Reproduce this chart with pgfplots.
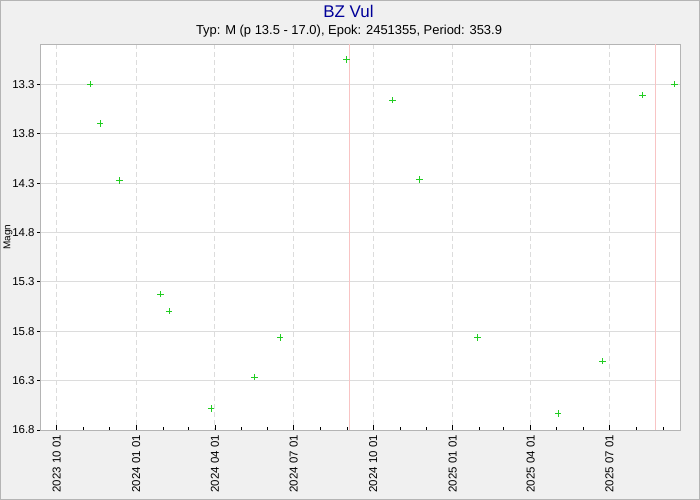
\documentclass[border=0pt]{standalone}
\usepackage{fontspec}
\setmainfont{Liberation Sans}
\usepackage{pgfplots}
\pgfplotsset{compat=1.18}
\definecolor{bg}{HTML}{F0F0F0}
\definecolor{framec}{HTML}{B4B4B4}
\definecolor{gridc}{HTML}{DCDCDC}
\definecolor{ptc}{HTML}{22CC22}
\definecolor{redl}{HTML}{F8C4C4}
\definecolor{titc}{HTML}{000099}
\begin{document}
\begin{tikzpicture}[x=1bp,y=1bp]
\useasboundingbox (0,0) rectangle (700,500);
\fill[bg] (0,0) rectangle (700,500);
\draw[framec, line width=1bp] (0.5,0.5) rectangle (699.5,499.5);
\node[anchor=base, font=\fontsize{17}{20}\selectfont, text=titc, inner sep=0pt] at (348.5,482.7) {BZ Vul};
\node[anchor=base, font=\fontsize{13}{15}\selectfont, inner sep=0pt] at (349,465.3) {Typ: M (p 13.5 - 17.0), Epok: 2451355, Period: 353.9};
\node[rotate=90, anchor=base, font=\fontsize{10}{11}\selectfont, inner sep=0pt] at (10.3,262.8) {Magn};
\begin{axis}[
  at={(40.3bp,70bp)}, anchor=south west, scale only axis,
  width=640bp, height=385.7bp,
  xmin=-18.96, xmax=721.1, ymin=12.895, ymax=16.8, y dir=reverse,
  axis background/.style={fill=white},
  axis line style={framec, line width=1bp},
  xtick={0,92,183,274,366,458,548,639},
  xticklabels={2023 10 01,2024 01 01,2024 04 01,2024 07 01,2024 10 01,2025 01 01,2025 04 01,2025 07 01},
  minor xtick={31,61,123,152,213,244,305,336,397,427,489,517,578,609,670,701},
  ytick={13.3,13.8,14.3,14.8,15.3,15.8,16.3,16.8},
  yticklabels={13.3,13.8,14.3,14.8,15.3,15.8,16.3,16.8},
  xtick pos=left, ytick pos=left,
  xtick align=inside, ytick align=outside,
  major tick length=5bp, minor tick length=3bp,
  ytick style={/pgfplots/major tick length=3bp},
  tick style={black, line width=0.8bp},
  xmajorgrids, ymajorgrids,
  x grid style={gridc, dash pattern=on 5bp off 3bp, line width=1bp},
  y grid style={gridc, line width=1bp},
  tick label style={font=\fontsize{11.5}{13}\selectfont},
  xticklabel style={rotate=90, anchor=east, inner xsep=5bp, inner ysep=0pt},
  yticklabel style={anchor=east, inner xsep=0.5bp, inner ysep=0pt},
]
\addplot[redl, line width=1bp, forget plot] coordinates {(338.3,12.895) (338.3,16.8)};
\addplot[redl, line width=1bp, forget plot] coordinates {(692.2,12.895) (692.2,16.8)};
\addplot[only marks, mark=+, mark size=3.2bp, ptc, line width=0.9bp] coordinates {
(38.85,13.30) (50.4,13.695) (72.4,14.272) (119.8,15.426) (130.2,15.598)
(178.4,16.584) (228.5,16.263) (258.2,15.862) (334.9,13.047) (388.1,13.462)
(419.3,14.262) (486.4,15.862) (580.0,16.631) (630.9,16.104) (677.2,13.411)
(714.2,13.30)};
\end{axis}
\end{tikzpicture}
\end{document}
